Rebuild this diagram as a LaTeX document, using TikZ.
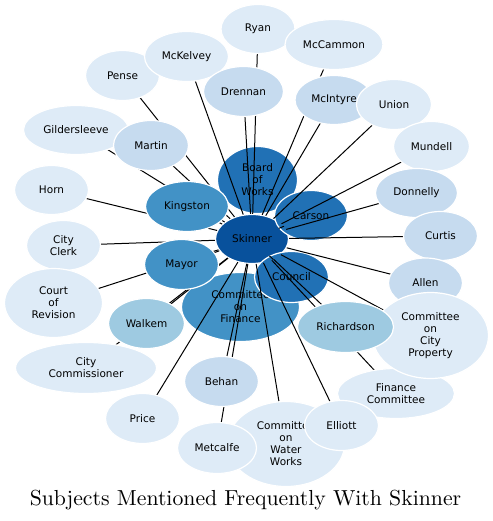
\documentclass[tikz,border=0pt]{standalone}
\usepackage{fontspec}
\setsansfont{DejaVu Sans}
\newfontfamily\titlefont{lmroman10-regular}[Extension=.otf]
\usetikzlibrary{shapes.geometric}
\definecolor{b1}{HTML}{DEEBF7}
\definecolor{b2}{HTML}{C6DBEF}
\definecolor{b3}{HTML}{9ECAE1}
\definecolor{b4}{HTML}{4292C6}
\definecolor{b5}{HTML}{2171B5}
\definecolor{b6}{HTML}{08519C}
\tikzset{
  nd/.style={ellipse, draw=white, line width=1.2pt, inner sep=0pt, align=center,
    font=\sffamily\fontsize{10.5}{12}\selectfont, text=black},
  edge/.style={draw=black, line width=1pt},
}
\newcommand{\nd}[7]{\node[nd, fill=#1, minimum width=#4pt, minimum height=#5pt] (#6) at (#2,#3) {#7};}
\begin{document}
\begin{tikzpicture}[x=1pt,y=-1pt]
\useasboundingbox[fill=white] (0,0) rectangle (492,521);
% inner nodes (under edges)
\nd{b5}{257.5}{180}{80}{67}{bow}{Board\\of\\Works}
\nd{b4}{240.5}{307}{118}{69}{cof}{Committee\\on\\Finance}
\nd{b6}{252}{239}{73}{49}{skinner}{Skinner}
\nd{b5}{311}{215.5}{73}{50}{carson}{Carson}
\nd{b5}{291.5}{277}{74}{51}{council}{Council}
% outer node positions (coordinates for edges first)
\foreach \n/\x/\y in {ryan/258/29, mccammon/334/44.5, pense/122.5/75.5, mckelvey/186.5/56.5,
  drennan/243.5/91.5, mcintyre/334/100, union/394/104.5, mundell/431.5/146.5,
  donnelly/416.5/193, curtis/440.5/236, gilder/76/130, martin/151/145.5, horn/51.5/190,
  kingston/187/206.5, cityclerk/63.5/245.5, mayor/181.5/264.5, court/53.5/303,
  citycomm/86/368, walkem/146.5/323.5, price/142.5/418.5, behan/221.5/381.5,
  metcalfe/217/448, cww/286/444, fincomm/396/393.5, elliott/341.5/425.5,
  allen/425.5/283, ccp/430.5/335.5, richardson/345.5/327}
  {\coordinate (p-\n) at (\x,\y);}
% edges
\foreach \n in {ryan, mccammon, pense, mckelvey, drennan, mcintyre, union, mundell,
  donnelly, curtis, gilder, martin, horn, kingston, cityclerk, mayor, court,
  citycomm, walkem, price, behan, metcalfe, cww, fincomm, elliott, allen, ccp, richardson}
  {\draw[edge] (skinner) -- (p-\n);}
\draw[edge] (skinner) -- (carson);
\draw[edge] (skinner) -- (council);
% outer nodes
\nd{b1}{258}{29}{74}{49}{ryan}{Ryan}
\nd{b1}{334}{44.5}{98}{50}{mccammon}{McCammon}
\nd{b1}{122.5}{75.5}{74}{50}{pense}{Pense}
\nd{b1}{186.5}{56.5}{84}{50}{mckelvey}{McKelvey}
\nd{b2}{243.5}{91.5}{80}{50}{drennan}{Drennan}
\nd{b2}{334}{100}{78}{49}{mcintyre}{McIntyre}
\nd{b1}{394}{104.5}{75}{50}{union}{Union}
\nd{b1}{431.5}{146.5}{76}{50}{mundell}{Mundell}
\nd{b2}{416.5}{193}{82}{49}{donnelly}{Donnelly}
\nd{b2}{440.5}{236}{74}{49}{curtis}{Curtis}
\nd{b1}{76}{130}{105}{49}{gilder}{Gildersleeve}
\nd{b2}{151}{145.5}{75}{50}{martin}{Martin}
\nd{b1}{51.5}{190}{74}{49}{horn}{Horn}
\nd{b4}{187}{206.5}{83}{50}{kingston}{Kingston}
\nd{b1}{63.5}{245.5}{74}{50}{cityclerk}{City\\Clerk}
\nd{b4}{181.5}{264.5}{74}{50}{mayor}{Mayor}
\nd{b1}{53.5}{303}{98}{69}{court}{Court\\of\\Revision}
\nd{b1}{86}{368}{141}{51}{citycomm}{City\\Commissioner}
\nd{b3}{146.5}{323.5}{76}{50}{walkem}{Walkem}
\nd{b1}{142.5}{418.5}{74}{50}{price}{Price}
\nd{b2}{221.5}{381.5}{74}{50}{behan}{Behan}
\nd{b1}{286}{444}{117}{85}{cww}{Committee\\on\\Water\\Works}
\nd{b1}{217}{448}{79}{51}{metcalfe}{Metcalfe}
\nd{b1}{396}{393.5}{117}{50}{fincomm}{Finance\\Committee}
\nd{b1}{341.5}{425.5}{74}{50}{elliott}{Elliott}
\nd{b2}{425.5}{283}{74}{50}{allen}{Allen}
\nd{b1}{430.5}{335.5}{116}{86}{ccp}{Committee\\on\\City\\Property}
\nd{b3}{345.5}{327}{96}{51}{richardson}{Richardson}
% title
\node[anchor=base, font=\titlefont\fontsize{21.75}{26}\selectfont, inner sep=0pt] (title) at (245.5,505.7) {Subjects Mentioned Frequently With Skinner};
\end{tikzpicture}
\end{document}
